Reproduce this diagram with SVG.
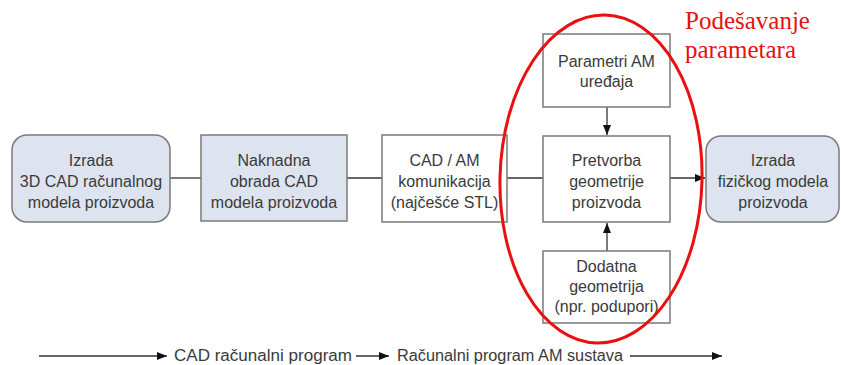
<svg xmlns="http://www.w3.org/2000/svg" width="841" height="365" viewBox="0 0 841 365">
<style>
.box{stroke:#7a7a7a;stroke-width:1.5}
.blue{fill:#dde4ef}
.white{fill:#ffffff}
.t{font-family:"Liberation Sans",Arial,sans-serif;font-size:16px;fill:#3a3a3a;text-anchor:middle}
.bt{font-family:"Liberation Sans",Arial,sans-serif;font-size:16px;fill:#3a3a3a}
.ln{stroke:#333;stroke-width:1.3;fill:none}
.red{font-family:"Liberation Serif","Times New Roman",serif;font-size:25px;fill:#e81010}
</style>
<defs>
<marker id="ah" markerWidth="10" markerHeight="8" refX="10" refY="4" orient="auto" markerUnits="userSpaceOnUse">
<path d="M0,0 L10,4 L0,8 Z" fill="#111"/>
</marker>
</defs>
<rect width="841" height="365" fill="#ffffff"/>
<g id="connectors">
<line class="ln" x1="170" y1="178" x2="201" y2="178"/>
<line class="ln" x1="347" y1="178" x2="382" y2="178"/>
<line class="ln" x1="507" y1="178" x2="543" y2="178"/>
<line class="ln" x1="670" y1="178" x2="705" y2="178" marker-end="url(#ah)"/>
<line class="ln" x1="607" y1="107" x2="607" y2="135" marker-end="url(#ah)"/>
<line class="ln" x1="607" y1="251" x2="607" y2="223" marker-end="url(#ah)"/>
<line class="ln" x1="39" y1="356" x2="167" y2="356" marker-end="url(#ah)"/>
<line class="ln" x1="356" y1="356" x2="389" y2="356" marker-end="url(#ah)"/>
<line class="ln" x1="630" y1="356" x2="722" y2="356" marker-end="url(#ah)"/>
</g>
<g id="n1">
<rect class="box blue" x="12" y="135" width="158" height="87" rx="15"/>
<text class="t" x="91" y="166">Izrada</text>
<text class="t" x="91" y="187">3D CAD računalnog</text>
<text class="t" x="91" y="208">modela proizvoda</text>
</g>
<g id="n2">
<rect class="box blue" x="201" y="135" width="146" height="86"/>
<text class="t" x="274" y="166">Naknadna</text>
<text class="t" x="274" y="187">obrada CAD</text>
<text class="t" x="274" y="208">modela proizvoda</text>
</g>
<g id="n3">
<rect class="box white" x="382" y="135" width="125" height="87"/>
<text class="t" x="444.5" y="166">CAD / AM</text>
<text class="t" x="444.5" y="187">komunikacija</text>
<text class="t" x="444.5" y="208">(najčešće STL)</text>
</g>
<g id="n4">
<rect class="box white" x="543" y="136" width="127" height="86"/>
<text class="t" x="606.5" y="166">Pretvorba</text>
<text class="t" x="606.5" y="187">geometrije</text>
<text class="t" x="606.5" y="208">proizvoda</text>
</g>
<g id="n5">
<rect class="box blue" x="706" y="136" width="133" height="86" rx="15"/>
<text class="t" x="773" y="166">Izrada</text>
<text class="t" x="773" y="187">fizičkog modela</text>
<text class="t" x="773" y="208">proizvoda</text>
</g>
<g id="n6">
<rect class="box white" x="543" y="34" width="127" height="73"/>
<text class="t" x="606.5" y="67">Parametri AM</text>
<text class="t" x="606.5" y="87">uređaja</text>
</g>
<g id="n7">
<rect class="box white" x="543" y="251" width="127" height="72"/>
<text class="t" x="606.5" y="272">Dodatna</text>
<text class="t" x="606.5" y="292">geometrija</text>
<text class="t" x="606.5" y="312">(npr. podupori)</text>
</g>
<g id="legend">
<text class="bt" x="174" y="361" textLength="178" lengthAdjust="spacingAndGlyphs">CAD računalni program</text>
<text class="bt" x="397" y="361" textLength="226" lengthAdjust="spacingAndGlyphs">Računalni program AM sustava</text>
</g>
<g id="highlight">
<ellipse cx="601" cy="179" rx="101" ry="164" transform="rotate(1.5 601 179)" fill="none" stroke="#e81010" stroke-width="3"/>
<text class="red" x="685" y="29">Podešavanje</text>
<text class="red" x="685" y="58">parametara</text>
</g>
</svg>
